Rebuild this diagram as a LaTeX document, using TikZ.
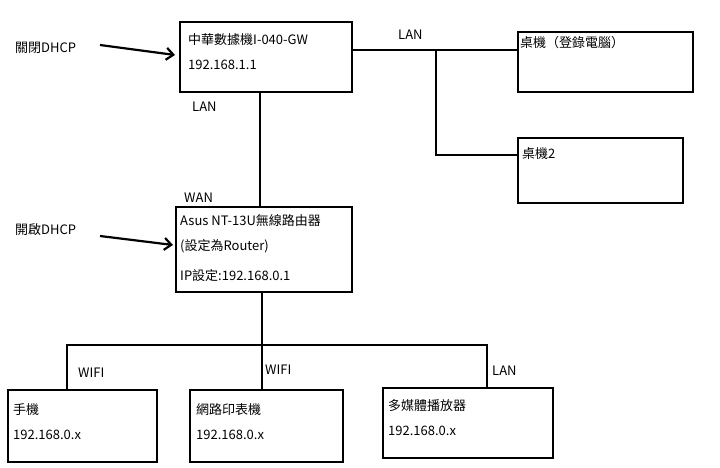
\documentclass[tikz,border=0pt]{standalone}
\usepackage{fontspec}
\setmainfont{Noto Sans CJK TC}
\usetikzlibrary{arrows.meta}
\tikzset{
  box/.style={draw,line width=2.4pt,inner sep=0pt},
  wire/.style={line width=2.4pt},
  lbl/.style={anchor=west,inner sep=0pt,font=\fontsize{13}{15}\selectfont},
  note/.style={-{Straight Barb[length=7pt,width=12pt]},line width=2.2pt}
}
\begin{document}
\begin{tikzpicture}[x=1pt,y=-1pt]
  \useasboundingbox (0,0) rectangle (720,468);
  % boxes
  \draw[box] (180,22) rectangle (352,92);
  \node[lbl] (modemA) at (188,40) {中華數據機I-040-GW};
  \node[lbl] (modemB) at (188,65) {192.168.1.1};
  \draw[box] (518,32) rectangle (693,92);
  \node[lbl] (pc1) at (520,43) {桌機（登錄電腦）};
  \draw[box] (518,138) rectangle (683,203);
  \node[lbl] (pc2) at (522,154) {桌機2};
  \draw[box] (176,207) rectangle (352,292);
  \node[lbl] (asusA) at (180,221) {Asus NT-13U無線路由器};
  \node[lbl] (asusB) at (180,246) {(設定為Router)};
  \node[lbl] (asusC) at (180,276) {IP設定:192.168.0.1};
  \draw[box] (8,390) rectangle (157,462);
  \node[lbl] (phoneA) at (13,410) {手機};
  \node[lbl] (phoneB) at (13,435) {192.168.0.x};
  \draw[box] (190,390) rectangle (343,462);
  \node[lbl] (prnA) at (196,410) {網路印表機};
  \node[lbl] (prnB) at (196,435) {192.168.0.x};
  \draw[box] (383,388) rectangle (553,458);
  \node[lbl] (mediaA) at (388,406) {多媒體播放器};
  \node[lbl] (mediaB) at (388,431) {192.168.0.x};
  % wires
  \coordinate (j1) at (436,50);
  \draw[wire] (352,50) -- (j1) -- (518,50);
  \draw[wire] (j1) -- (436,155) -- (518,155);
  \draw[wire] (260,92) -- (260,207);
  \coordinate (j2) at (262,345);
  \draw[wire] (262,292) -- (j2);
  \draw[wire] (67,390) -- (67,345) -- (487,345) -- (487,388);
  \draw[wire] (j2) -- (262,390);
  % labels
  \node[lbl] (lanA) at (398,35) {LAN};
  \node[lbl] (lanB) at (192,107) {LAN};
  \node[lbl] (wan) at (184,198) {WAN};
  \node[lbl] (wifiA) at (78,373) {WIFI};
  \node[lbl] (wifiB) at (265,370) {WIFI};
  \node[lbl] (lanC) at (492,371) {LAN};
  % dhcp notes
  \node[lbl] (off) at (15,48) {關閉DHCP};
  \node[lbl] (on) at (15,230) {開啟DHCP};
  \draw[note] (100,45) -- (175,55);
  \draw[note] (100,236) -- (173,245);
\end{tikzpicture}
\end{document}
